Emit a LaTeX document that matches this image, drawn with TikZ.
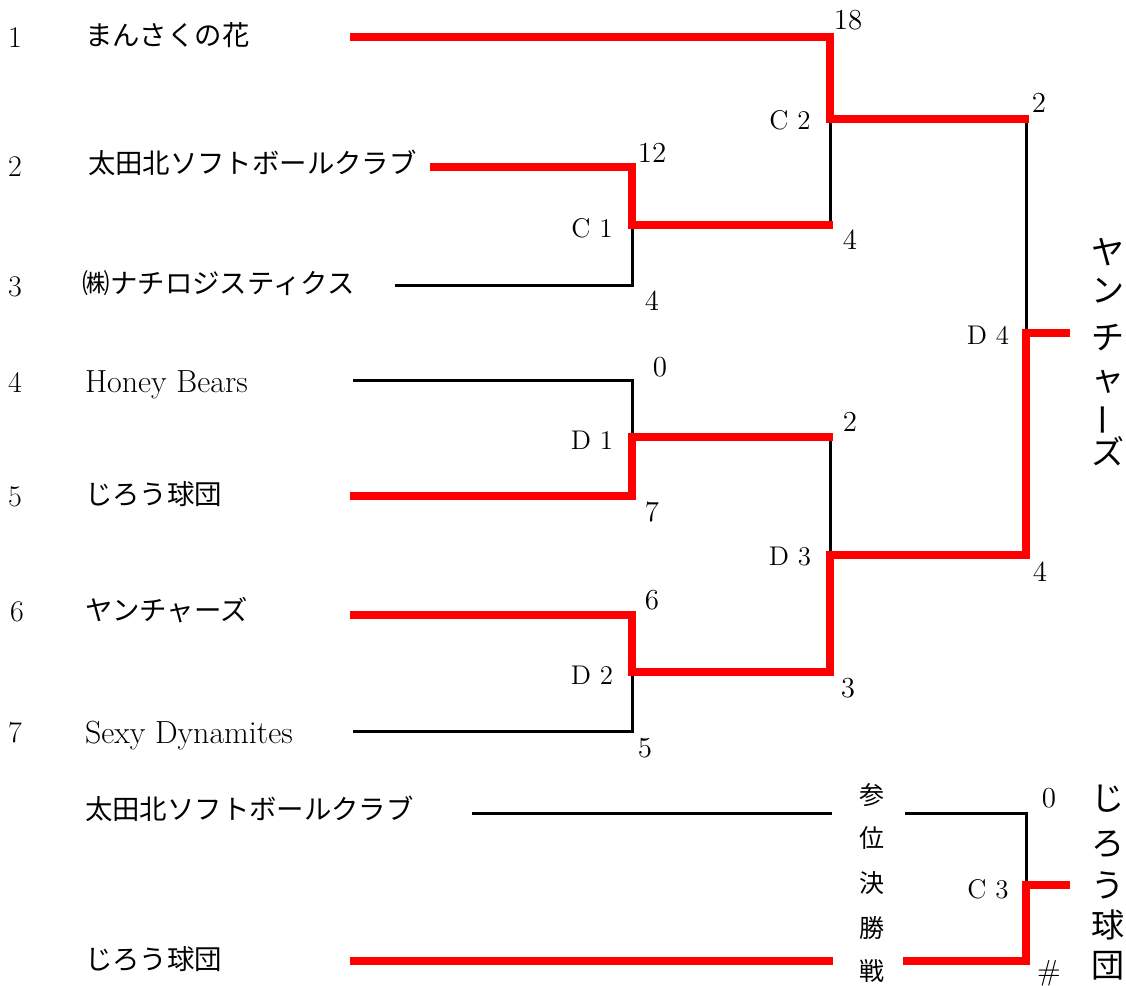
\documentclass[tikz,border=0pt]{standalone}
\usepackage{fontspec}
\newfontfamily\jp{Noto Sans CJK JP}
\begin{document}
\begin{tikzpicture}[x=0.5pt,y=-0.5pt,
  every node/.style={inner sep=0pt,outer sep=0pt},
  idx/.style={font=\fontsize{15}{18}\selectfont},
  lname/.style={anchor=base west,font=\fontsize{16}{19}\selectfont},
  jname/.style={anchor=west,font=\jp\fontsize{13.7}{16}\selectfont,text height=0.88em,text depth=0.12em},
  score/.style={font=\fontsize{14.5}{17}\selectfont},
  game/.style={font=\fontsize{13.5}{16}\selectfont},
  win/.style={font=\jp\fontsize{16.5}{20}\selectfont,text height=0.88em,text depth=0.12em},
  side/.style={font=\jp\fontsize{12.5}{15}\selectfont,text height=0.88em,text depth=0.12em},
  lose/.style={line width=1.5pt,line join=miter},
  wonl/.style={red,line width=4.2pt,line join=miter},
]
\useasboundingbox (0,0) rectangle (1126,986);
% team line starts
\coordinate (t1) at (350,37);
\coordinate (t2) at (430,167);
\coordinate (t3) at (395,285);
\coordinate (t4) at (353,380);
\coordinate (t5) at (350,496);
\coordinate (t6) at (350,615);
\coordinate (t7) at (353,731);
\coordinate (bA) at (472,813);
\coordinate (bB) at (350,961);
% round 1 column
\coordinate (c1a) at (632,167);
\coordinate (c1) at (632,225);
\coordinate (c1b) at (632,285);
\coordinate (d1a) at (632,380);
\coordinate (d1) at (632,437);
\coordinate (d1b) at (632,496);
\coordinate (d2a) at (632,615);
\coordinate (d2) at (632,672);
\coordinate (d2b) at (632,731);
% round 2 column
\coordinate (c2a) at (830,37);
\coordinate (c2) at (830,119);
\coordinate (c2b) at (830,225);
\coordinate (c2be) at (833,225);
\coordinate (d3a) at (830,437);
\coordinate (d3ae) at (833,437);
\coordinate (d3) at (830,555);
\coordinate (d3b) at (830,672);
% round 3 column
\coordinate (d4a) at (1026,119);
\coordinate (d4ae) at (1029,119);
\coordinate (d4) at (1026,333);
\coordinate (d4b) at (1026,555);
\coordinate (c3a) at (1026,813);
\coordinate (c3) at (1026,885);
\coordinate (c3b) at (1026,961);
\coordinate (w1) at (1070,333);
\coordinate (w2) at (1070,885);
% gap around the vertical label
\coordinate (bAe) at (832,813);
\coordinate (bAs) at (905,813);
\coordinate (bBe) at (833,961);
\coordinate (bBs) at (903,961);

% losing (black) lines
\draw[lose] (t3) -- (c1b) -- (c1);
\draw[lose] (c2) -- (c2b);
\draw[lose] (t4) -- (d1a) -- (d1);
\draw[lose] (d3a) -- (d3);
\draw[lose] (d2) -- (d2b) -- (t7);
\draw[lose] (d4a) -- (d4);
\draw[lose] (bA) -- (bAe);
\draw[lose] (bAs) -- (c3a) -- (c3);

% winning (red) lines
\draw[wonl] (t1) -- (c2a) -- (c2) -- (d4ae);
\draw[wonl] (t2) -- (c1a) -- (c1) -- (c2be);
\draw[wonl] (t5) -- (d1b) -- (d1) -- (d3ae);
\draw[wonl] (t6) -- (d2a) -- (d2) -- (d3b) -- (d3) -- (d4b) -- (d4) -- (w1);
\draw[wonl] (bB) -- (bBe);
\draw[wonl] (bBs) -- (c3b) -- (c3) -- (w2);

% seed numbers
\node[idx] (n1) at (15,38) {1};
\node[idx] (n2) at (15,167) {2};
\node[idx] (n3) at (15,287) {3};
\node[idx] (n4) at (15,382) {4};
\node[idx] (n5) at (15,497) {5};
\node[idx] (n6) at (17,612) {6};
\node[idx] (n7) at (15,733) {7};

% team names
\node[jname] (m1) at (85,38) {まんさくの花};
\node[jname] (m2) at (88,166) {太田北ソフトボールクラブ};
\node[jname] (m3) at (83,286) {㈱ナチロジスティクス};
\node[lname] (m4) at (85,392) {Honey Bears};
\node[jname] (m5) at (85,497) {じろう球団};
\node[jname] (m6) at (85,613) {ヤンチャーズ};
\node[lname] (m7) at (85,743) {Sexy Dynamites};
\node[jname] (mA) at (85,812) {太田北ソフトボールクラブ};
\node[jname] (mB) at (85,962) {じろう球団};

% scores
\node[score] (s1) at (848,20) {18};
\node[score] (s2) at (1039,103) {2};
\node[score] (s3) at (850,240) {4};
\node[score] (s4) at (652,153) {12};
\node[score] (s5) at (652,301) {4};
\node[score] (s6) at (660,367) {0};
\node[score] (s7) at (652,512) {7};
\node[score] (s8) at (850,422) {2};
\node[score] (s9) at (848,688) {3};
\node[score] (s10) at (652,600) {6};
\node[score] (s11) at (645,748) {5};
\node[score] (s12) at (1040,572) {4};
\node[score] (s13) at (1049,798) {0};
\node[score] (s14) at (1049,973) {\#};

% game labels
\node[game] (g1) at (592,228) {C 1};
\node[game] (g2) at (790,120) {C 2};
\node[game] (g3) at (592,440) {D 1};
\node[game] (g4) at (592,675) {D 2};
\node[game] (g5) at (790,557) {D 3};
\node[game] (g6) at (988,335) {D 4};
\node[game] (g7) at (988,889) {C 3};

% vertical label for third-place match
\node[side] (v1) at (872,797) {参};
\node[side] (v2) at (872,840) {位};
\node[side] (v3) at (872,885) {決};
\node[side] (v4) at (872,930) {勝};
\node[side] (v5) at (872,973) {戦};

% champion
\node[win] (w1a) at (1108,257) {ヤ};
\node[win] (w1b) at (1108,295) {ン};
\node[win] (w1c) at (1108,342) {チ};
\node[win] (w1d) at (1108,383) {ャ};
\node[win,rotate=90] (w1e) at (1108,420) {ー};
\node[win] (w1f) at (1108,457) {ズ};

% third place winner
\node[win] (w2a) at (1108,803) {じ};
\node[win] (w2b) at (1108,848) {ろ};
\node[win] (w2c) at (1108,890) {う};
\node[win] (w2d) at (1108,930) {球};
\node[win] (w2e) at (1108,970) {団};
\end{tikzpicture}
\end{document}
